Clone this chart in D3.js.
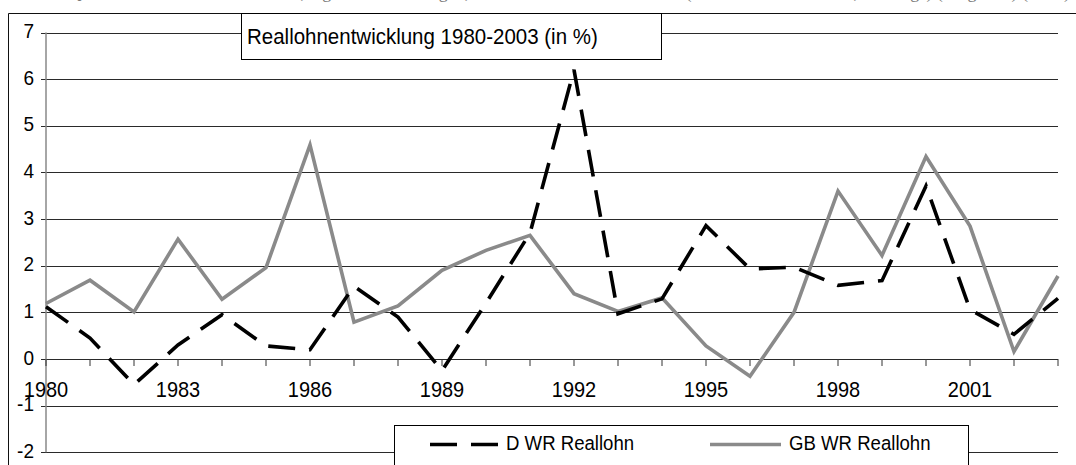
<!DOCTYPE html>
<html>
<head>
<meta charset="utf-8">
<script src="https://cdn.jsdelivr.net/npm/d3@7/dist/d3.min.js"></script>
<style>
  html, body { margin: 0; padding: 0; background: #fff; }
  svg { display: block; }
  text { font-family: Arial, "Liberation Sans", sans-serif; }
</style>
</head>
<body>
<svg id="chart" width="1076" height="465"></svg>
<script>
const years = [1980,1981,1982,1983,1984,1985,1986,1987,1988,1989,1990,1991,
               1992,1993,1994,1995,1996,1997,1998,1999,2000,2001,2002,2003];
const dReal = [1.12,0.45,-0.55,0.3,0.95,0.28,0.2,1.56,0.9,-0.25,1.2,2.7,
               6.2,0.97,1.29,2.86,1.93,1.97,1.58,1.68,3.71,1.06,0.53,1.3];
const gbReal = [1.19,1.69,1.01,2.57,1.28,1.96,4.59,0.79,1.14,1.9,2.33,2.65,
                1.4,1.02,1.31,0.28,-0.37,1.0,3.6,2.22,4.34,2.85,0.16,1.78];
const yTickValues = [-2,-1,0,1,2,3,4,5,6,7];
const xTickLabels = ["1980","1983","1986","1989","1992","1995","1998","2001"];
const seriesNames = ["D WR Reallohn","GB WR Reallohn"];
const chartTitle = "Reallohnentwicklung 1980-2003 (in %)";
const topCaption = "Quelle: Statistisches Bundesamt, eigene Berechnungen, Office for National Statistics (Labour Market Trends, Earnings) (Vergleich) (2004)";

const svg = d3.select("#chart");

const x = d3.scalePoint().domain(years).range([46, 1058]);
const y = d3.scaleLinear().domain([-2, 7]).range([452.3, 32.5]);

// cropped caption at very top
svg.append("text")
  .attr("x", 1070).attr("y", -2)
  .attr("text-anchor", "end")
  .style("font-family", "'Liberation Serif', 'DejaVu Serif', serif")
  .style("font-size", "18px")
  .attr("fill", "#777")
  .text(topCaption);

// outer frame (left + top visible)
svg.append("path")
  .attr("d", "M8.5,470 V13.5 H1080")
  .attr("fill", "none").attr("stroke", "#111").attr("stroke-width", 1);

// gridlines with left tick extension
svg.append("g").selectAll("line").data(yTickValues).join("line")
  .attr("x1", 41).attr("x2", 1058)
  .attr("y1", d => Math.round(y(d)) + 0.5)
  .attr("y2", d => Math.round(y(d)) + 0.5)
  .attr("stroke", "#2a2a2a").attr("stroke-width", 1);

// y-axis line
svg.append("line")
  .attr("x1", x(1980)).attr("x2", x(1980))
  .attr("y1", y(7)).attr("y2", y(-2))
  .attr("stroke", "#888").attr("stroke-width", 1.5);

// x-axis ticks at 0 line
svg.append("g").selectAll("line").data(years).join("line")
  .attr("x1", d => x(d)).attr("x2", d => x(d))
  .attr("y1", Math.round(y(0))).attr("y2", Math.round(y(0)) + 7)
  .attr("stroke", "#333").attr("stroke-width", 1);

// helper: vertically stretched text
function stretched(sel, sy) {
  return sel.attr("transform", function() {
    const tx = +this.getAttribute("data-x"), ty = +this.getAttribute("data-y");
    return `translate(${tx},${ty}) scale(1,${sy})`;
  });
}

// y labels
stretched(svg.append("g").selectAll("text").data(yTickValues).join("text")
  .attr("data-x", 34).attr("data-y", d => y(d) + 5.5)
  .attr("text-anchor", "end")
  .style("font-size", "19px")
  .attr("fill", "#000")
  .text(d => d), 1.03);

// x labels
stretched(svg.append("g").selectAll("text").data(xTickLabels).join("text")
  .attr("data-x", d => x(+d)).attr("data-y", 396.5)
  .attr("text-anchor", "middle")
  .style("font-size", "20px")
  .attr("fill", "#000")
  .text(d => d), 1.06);

const line = d3.line().x((d, i) => x(years[i])).y(d => y(d));

// GB series
svg.append("path")
  .datum(gbReal)
  .attr("d", line)
  .attr("fill", "none")
  .attr("stroke", "#8a8a8a")
  .attr("stroke-width", 3.6)
  .attr("stroke-linejoin", "miter");

// D series
svg.append("path")
  .datum(dReal)
  .attr("d", line)
  .attr("fill", "none")
  .attr("stroke", "#000")
  .attr("stroke-width", 3.6)
  .attr("stroke-dasharray", "27,14")
  .attr("stroke-linejoin", "miter");

// title box
svg.append("rect")
  .attr("x", 241.5).attr("y", 13.5).attr("width", 420).attr("height", 46)
  .attr("fill", "#fff").attr("stroke", "#000").attr("stroke-width", 1);
stretched(svg.append("text")
  .attr("data-x", 247).attr("data-y", 44)
  .style("font-size", "20.5px")
  .attr("fill", "#000")
  .text(chartTitle), 1.12);

// legend
svg.append("rect")
  .attr("x", 394.5).attr("y", 425.5).attr("width", 574).attr("height", 60)
  .attr("fill", "#fff").attr("stroke", "#000").attr("stroke-width", 1);
const leg = [
  {name: seriesNames[0], x1: 430, x2: 498, tx: 506, color: "#000", dash: "27,14", w: 3.4},
  {name: seriesNames[1], x1: 710, x2: 781, tx: 789, color: "#8a8a8a", dash: null, w: 3.4}
];
const lg = svg.append("g").selectAll("g").data(leg).join("g");
lg.append("line")
  .attr("x1", d => d.x1).attr("x2", d => d.x2)
  .attr("y1", 444.5).attr("y2", 444.5)
  .attr("stroke", d => d.color).attr("stroke-width", d => d.w)
  .attr("stroke-dasharray", d => d.dash);
stretched(lg.append("text")
  .attr("data-x", d => d.tx).attr("data-y", 449.5)
  .style("font-size", "18.6px")
  .attr("fill", "#000")
  .text(d => d.name), 1.06);
</script>
</body>
</html>
